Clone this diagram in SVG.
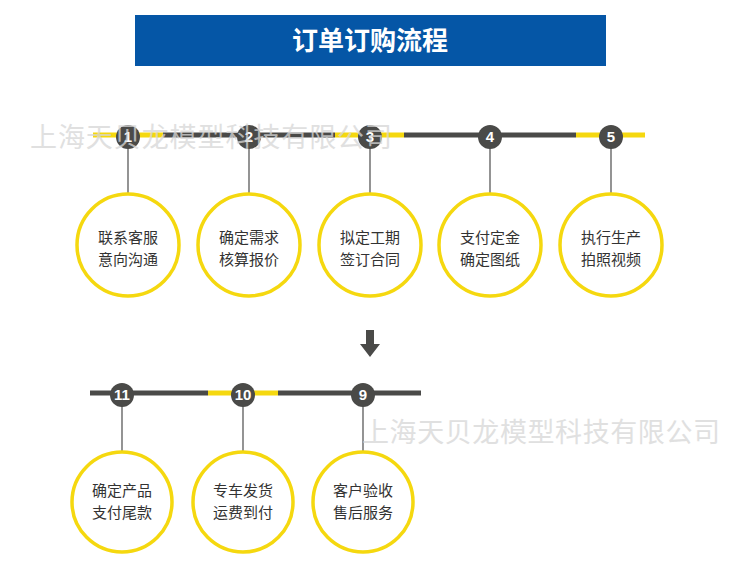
<svg xmlns="http://www.w3.org/2000/svg" width="751" height="588" viewBox="0 0 751 588">
<style>
.ring{fill:#fff;stroke:#F5D80F;stroke-width:3.5}
.stem{stroke:#666;stroke-width:1.4}
.badge{fill:#4a4a48}
.num{fill:#fff;font-family:"Liberation Sans",Arial,sans-serif;font-weight:bold;font-size:15px;text-anchor:middle}
.lbl{fill:#333;font-family:"Noto Sans CJK SC","Noto Sans",sans-serif;font-size:15px;text-anchor:middle}
.dark{stroke:#4a4a48;stroke-width:5}
.yel{stroke:#F5D80F;stroke-width:5}
.wm{fill:#d6d6d6;opacity:0.75;font-family:"Noto Sans CJK SC",sans-serif;font-size:27px}
</style>
<rect width="751" height="588" fill="#fff"/>
<g id="title">
<rect x="135" y="15" width="471" height="51" fill="#0556A6"/>
<text x="370" y="50" fill="#fff" font-family="Noto Sans CJK SC,sans-serif" font-weight="bold" font-size="26" text-anchor="middle">订单订购流程</text>
</g>
<g id="connectors">
<line class="yel" x1="93" y1="135" x2="163" y2="135"/>
<line class="dark" x1="163" y1="135" x2="335" y2="135"/>
<line class="yel" x1="335" y1="135" x2="404" y2="135"/>
<line class="dark" x1="404" y1="135" x2="576" y2="135"/>
<line class="yel" x1="576" y1="135" x2="645" y2="135"/>
<line class="dark" x1="90" y1="393" x2="208" y2="393"/>
<line class="yel" x1="208" y1="393" x2="278" y2="393"/>
<line class="dark" x1="278" y1="393" x2="421" y2="393"/>
<line class="stem" x1="128" y1="137" x2="128" y2="193"/>
<line class="stem" x1="249" y1="137" x2="249" y2="193"/>
<line class="stem" x1="370" y1="137" x2="370" y2="193"/>
<line class="stem" x1="490" y1="137" x2="490" y2="193"/>
<line class="stem" x1="611" y1="137" x2="611" y2="193"/>
<line class="stem" x1="122" y1="395" x2="122" y2="452"/>
<line class="stem" x1="243" y1="395" x2="243" y2="452"/>
<line class="stem" x1="363" y1="395" x2="363" y2="452"/>
<path d="M366 330 H374 V344 H380 L370 357 L360 344 H366 Z" fill="#4a4a48"/>
</g>
<g id="n1"><circle class="badge" cx="128" cy="137" r="12"/><text class="num" x="128" y="142">1</text>
<circle class="ring" cx="128" cy="245" r="51"/><text class="lbl" x="128" y="243">联系客服</text><text class="lbl" x="128" y="265">意向沟通</text></g>
<g id="n2"><circle class="badge" cx="249" cy="137" r="12"/><text class="num" x="249" y="142">2</text>
<circle class="ring" cx="249" cy="245" r="51"/><text class="lbl" x="249" y="243">确定需求</text><text class="lbl" x="249" y="265">核算报价</text></g>
<g id="n3"><circle class="badge" cx="370" cy="137" r="12"/><text class="num" x="370" y="142">3</text>
<circle class="ring" cx="370" cy="245" r="51"/><text class="lbl" x="370" y="243">拟定工期</text><text class="lbl" x="370" y="265">签订合同</text></g>
<g id="n4"><circle class="badge" cx="490" cy="137" r="12"/><text class="num" x="490" y="142">4</text>
<circle class="ring" cx="490" cy="245" r="51"/><text class="lbl" x="490" y="243">支付定金</text><text class="lbl" x="490" y="265">确定图纸</text></g>
<g id="n5"><circle class="badge" cx="611" cy="137" r="12"/><text class="num" x="611" y="142">5</text>
<circle class="ring" cx="611" cy="245" r="51"/><text class="lbl" x="611" y="243">执行生产</text><text class="lbl" x="611" y="265">拍照视频</text></g>
<g id="n11"><circle class="badge" cx="122" cy="395" r="12"/><text class="num" x="122" y="400">11</text>
<circle class="ring" cx="122" cy="502" r="50"/><text class="lbl" x="122" y="496">确定产品</text><text class="lbl" x="122" y="518">支付尾款</text></g>
<g id="n10"><circle class="badge" cx="243" cy="395" r="12"/><text class="num" x="243" y="400">10</text>
<circle class="ring" cx="243" cy="502" r="50"/><text class="lbl" x="243" y="496">专车发货</text><text class="lbl" x="243" y="518">运费到付</text></g>
<g id="n9"><circle class="badge" cx="363" cy="395" r="12"/><text class="num" x="363" y="400">9</text>
<circle class="ring" cx="363" cy="502" r="50"/><text class="lbl" x="363" y="496">客户验收</text><text class="lbl" x="363" y="518">售后服务</text></g>
<g id="watermarks">
<text class="wm" x="30" y="147" textLength="362">上海天贝龙模型科技有限公司</text>
<text class="wm" x="362" y="442" textLength="358">上海天贝龙模型科技有限公司</text>
</g>
</svg>
